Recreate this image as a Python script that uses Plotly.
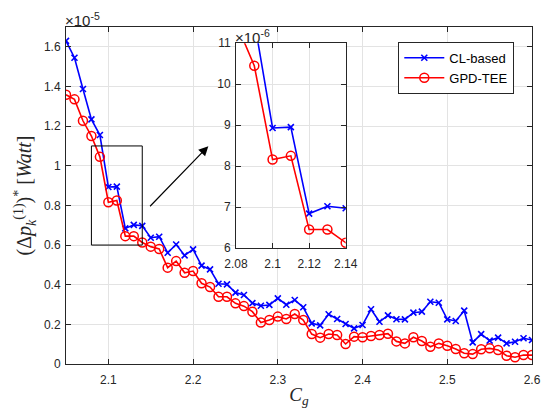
import plotly.graph_objects as go

# ---- data (values in units of 1e-5 Watt) ----
cg = [2.05, 2.06, 2.07, 2.08, 2.09, 2.10, 2.11, 2.12, 2.13, 2.14,
      2.15, 2.16, 2.17, 2.18, 2.19, 2.20, 2.21, 2.22, 2.23, 2.24,
      2.25, 2.26, 2.27, 2.28, 2.29, 2.30, 2.31, 2.32, 2.33, 2.34,
      2.35, 2.36, 2.37, 2.38, 2.39, 2.40, 2.41, 2.42, 2.43, 2.44,
      2.45, 2.46, 2.47, 2.48, 2.49, 2.50, 2.51, 2.52, 2.53, 2.54,
      2.55, 2.56, 2.57, 2.58, 2.59, 2.60]

cl_based = [1.630, 1.545, 1.387, 1.234, 1.155, 0.893, 0.895, 0.684, 0.702, 0.697,
            0.637, 0.642, 0.561, 0.603, 0.548, 0.578, 0.496, 0.477, 0.405, 0.402,
            0.360, 0.348, 0.307, 0.294, 0.298, 0.331, 0.299, 0.323, 0.286, 0.205,
            0.195, 0.251, 0.227, 0.202, 0.180, 0.197, 0.276, 0.213, 0.245, 0.226,
            0.225, 0.259, 0.264, 0.314, 0.309, 0.225, 0.217, 0.269, 0.109, 0.151,
            0.118, 0.133, 0.104, 0.112, 0.130, 0.121]

gpd_tee = [1.358, 1.335, 1.227, 1.150, 1.045, 0.816, 0.825, 0.645, 0.645, 0.613,
           0.592, 0.580, 0.486, 0.519, 0.460, 0.469, 0.407, 0.388, 0.339, 0.339,
           0.306, 0.292, 0.264, 0.209, 0.222, 0.239, 0.227, 0.252, 0.222, 0.151,
           0.133, 0.151, 0.146, 0.101, 0.138, 0.135, 0.141, 0.146, 0.153, 0.114,
           0.104, 0.135, 0.116, 0.087, 0.104, 0.092, 0.076, 0.054, 0.050, 0.074,
           0.079, 0.071, 0.042, 0.034, 0.045, 0.045]

x_ticks = [2.1, 2.2, 2.3, 2.4, 2.5, 2.6]
x_ticklabels = ["2.1", "2.2", "2.3", "2.4", "2.5", "2.6"]
y_ticks = [0, 0.2, 0.4, 0.6, 0.8, 1.0, 1.2, 1.4, 1.6]
y_ticklabels = ["0", "0.2", "0.4", "0.6", "0.8", "1", "1.2", "1.4", "1.6"]

inset_x_ticks = [2.08, 2.10, 2.12, 2.14]
inset_x_ticklabels = ["2.08", "2.1", "2.12", "2.14"]
inset_y_ticks = [0.6, 0.7, 0.8, 0.9, 1.0, 1.1]
inset_y_ticklabels = ["6", "7", "8", "9", "10", "11"]

zoom_x = [2.08, 2.14]
zoom_y = [0.6, 1.1]

BLUE = "#0000ff"
RED = "#ff0000"
AX = "#262626"
GRID = "#e3e3e3"
FONT = "Liberation Sans, Arial, sans-serif"
SERIF = "Liberation Serif, serif"

fig = go.Figure()

def add_series(xa, ya, show):
    fig.add_trace(go.Scatter(
        x=cg, y=cl_based, mode="lines+markers", name="CL-based",
        line=dict(color=BLUE, width=1.6),
        marker=dict(symbol="x-thin", size=6, line=dict(color=BLUE, width=1.6)),
        xaxis=xa, yaxis=ya, showlegend=show))
    fig.add_trace(go.Scatter(
        x=cg, y=gpd_tee, mode="lines+markers", name="GPD-TEE",
        line=dict(color=RED, width=1.6),
        marker=dict(symbol="circle-open", size=9, color=RED, line=dict(color=RED, width=1.5)),
        xaxis=xa, yaxis=ya, showlegend=show))

add_series("x", "y", True)
add_series("x2", "y2", False)

axis_common = dict(showline=True, linecolor=AX, linewidth=1, mirror="ticks",
                   ticks="inside", ticklen=5, tickcolor=AX, showgrid=True,
                   gridcolor=GRID, gridwidth=1, zeroline=False, automargin=False,
                   tickfont=dict(family=FONT, size=12, color=AX))

fig.update_layout(
    width=543, height=409,
    margin=dict(l=66, r=11, t=27, b=45),
    paper_bgcolor="white", plot_bgcolor="white",
    xaxis=dict(range=[2.05, 2.6], tickvals=x_ticks, ticktext=x_ticklabels,
               domain=[0, 1], ticklabelstandoff=5,
               title=dict(text="<i>C</i><sub><i>g</i></sub>", standoff=1,
                          font=dict(family=SERIF, size=19, color=AX)),
               **axis_common),
    yaxis=dict(range=[0, 1.7], tickvals=y_ticks, ticktext=y_ticklabels,
               domain=[0, 1], ticklabelstandoff=2,
               title=dict(text="(Δ<i>p</i><sub><i>k</i></sub><sup>(1)</sup>)<sup>*</sup> [<i>Watt</i>]",
                          standoff=6,
                          font=dict(family=SERIF, size=20, color=AX)),
               **axis_common),
    xaxis2=dict(range=zoom_x, tickvals=inset_x_ticks, ticktext=inset_x_ticklabels,
                domain=[(236 - 66) / 466, (345.7 - 66) / 466], anchor="y2",
                ticklabelstandoff=5,
                **axis_common),
    yaxis2=dict(range=zoom_y, tickvals=inset_y_ticks, ticktext=inset_y_ticklabels,
                domain=[(364 - 248) / 337, (364 - 43.2) / 337], anchor="x2",
                ticklabelstandoff=2,
                **axis_common),
    legend=dict(x=0.962, y=0.956, xanchor="right", yanchor="top",
                bgcolor="white", bordercolor=AX, borderwidth=1,
                font=dict(family=FONT, size=13, color="black"),
                tracegroupgap=0, itemwidth=40),
    showlegend=True,
)

# zoom rectangle on main axes
fig.add_shape(type="rect", xref="x", yref="y",
              x0=zoom_x[0], x1=zoom_x[1], y0=zoom_y[0], y1=zoom_y[1],
              line=dict(color="black", width=1))

# arrow toward the inset
fig.add_annotation(x=2.218, y=1.099, ax=2.1475, ay=0.788, xref="x", yref="y",
                   axref="x", ayref="y", text="", showarrow=True,
                   arrowhead=2, arrowsize=1.6, arrowwidth=1.2, arrowcolor="black")

# exponent labels
fig.add_annotation(xref="paper", yref="paper", x=0, y=1, xanchor="left", yanchor="bottom",
                   text="×10<sup>-5</sup>", showarrow=False,
                   font=dict(family=FONT, size=15, color=AX), yshift=-4, xshift=-3)
fig.add_annotation(xref="x2 domain", yref="y2 domain", x=0, y=1, xanchor="left", yanchor="bottom",
                   text="×10<sup>-6</sup>", showarrow=False,
                   font=dict(family=FONT, size=15, color=AX), yshift=-5, xshift=-3)

fig.write_html("out.html")
